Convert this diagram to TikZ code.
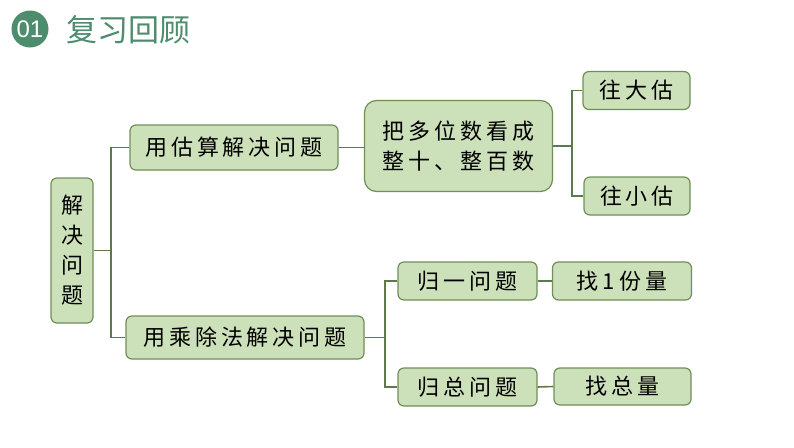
\documentclass[tikz,border=0pt]{standalone}
\usepackage{fontspec}
\newfontfamily\cjk{Noto Sans CJK SC}[LetterSpace=18]
\newfontfamily\cjkplain{Noto Sans CJK SC}
\definecolor{boxfill}{HTML}{CCE0B9}
\definecolor{boxline}{HTML}{6F8F58}
\definecolor{conn}{HTML}{5E7A4C}
\definecolor{teal}{HTML}{4E8C6E}
\begin{document}
\begin{tikzpicture}[x=1pt,y=-1pt,
  mbox/.style={draw=boxline,fill=boxfill,rounded corners=6pt,line width=1.2pt,
    inner sep=0pt,align=center,font=\cjk\fontsize{22}{30}\selectfont},
  link/.style={draw=conn,line width=1.6pt}]
\useasboundingbox[fill=white] (0,0) rectangle (794,447);
% header
\node[circle,fill=teal,minimum size=37pt,inner sep=0pt,text=white,
  font=\fontspec{Liberation Sans}\fontsize{24}{24}\selectfont] (num) at (30,29) {01};
\node[anchor=west,text=teal,inner sep=0pt,font=\cjkplain\fontsize{31}{31}\selectfont] (title) at (66,30) {复习回顾};
% nodes
\node[mbox,minimum width=42pt,minimum height=145pt] (root) at (72,250.5) {解\\决\\问\\题};
\node[mbox,minimum width=208pt,minimum height=45pt] (est) at (234,147.5) {用估算解决问题};
\node[mbox,minimum width=238pt,minimum height=43pt] (mul) at (245,337.5) {用乘除法解决问题};
\node[mbox,minimum width=188pt,minimum height=91pt,rounded corners=12pt] (big) at (458.5,146) {把多位数看成\\整十、整百数};
\node[mbox,minimum width=107pt,minimum height=38pt] (da) at (636.5,90.5) {往大估};
\node[mbox,minimum width=106pt,minimum height=38pt] (xiao) at (637,196) {往小估};
\node[mbox,minimum width=139pt,minimum height=38pt] (gy) at (467.5,281) {归一问题};
\node[mbox,minimum width=139pt,minimum height=38pt] (f1) at (622,281) {找1份量};
\node[mbox,minimum width=139pt,minimum height=38pt] (gz) at (467.5,387) {归总问题};
\node[mbox,minimum width=137pt,minimum height=37pt] (f2) at (622.5,386.5) {找总量};
% bus points
\coordinate (b1) at (111,250.5);
\coordinate (b2) at (572,146);
\coordinate (b3) at (385,337.5);
% connectors
\draw[link] (root.east) -- (b1);
\draw[link] (b1) |- (est.west);
\draw[link] (b1) |- (mul.west);
\draw[link] (est.east) -- (est.east -| big.west);
\draw[link] (big.east) -- (b2);
\draw[link] (b2) |- (da.west);
\draw[link] (b2) |- (xiao.west);
\draw[link] (mul.east) -- (b3);
\draw[link] (b3) |- (gy.west);
\draw[link] (b3) |- (gz.west);
\draw[link] (gy.east) -- (f1.west);
\draw[link] (gz.east) -- (f2.west);
\end{tikzpicture}
\end{document}
